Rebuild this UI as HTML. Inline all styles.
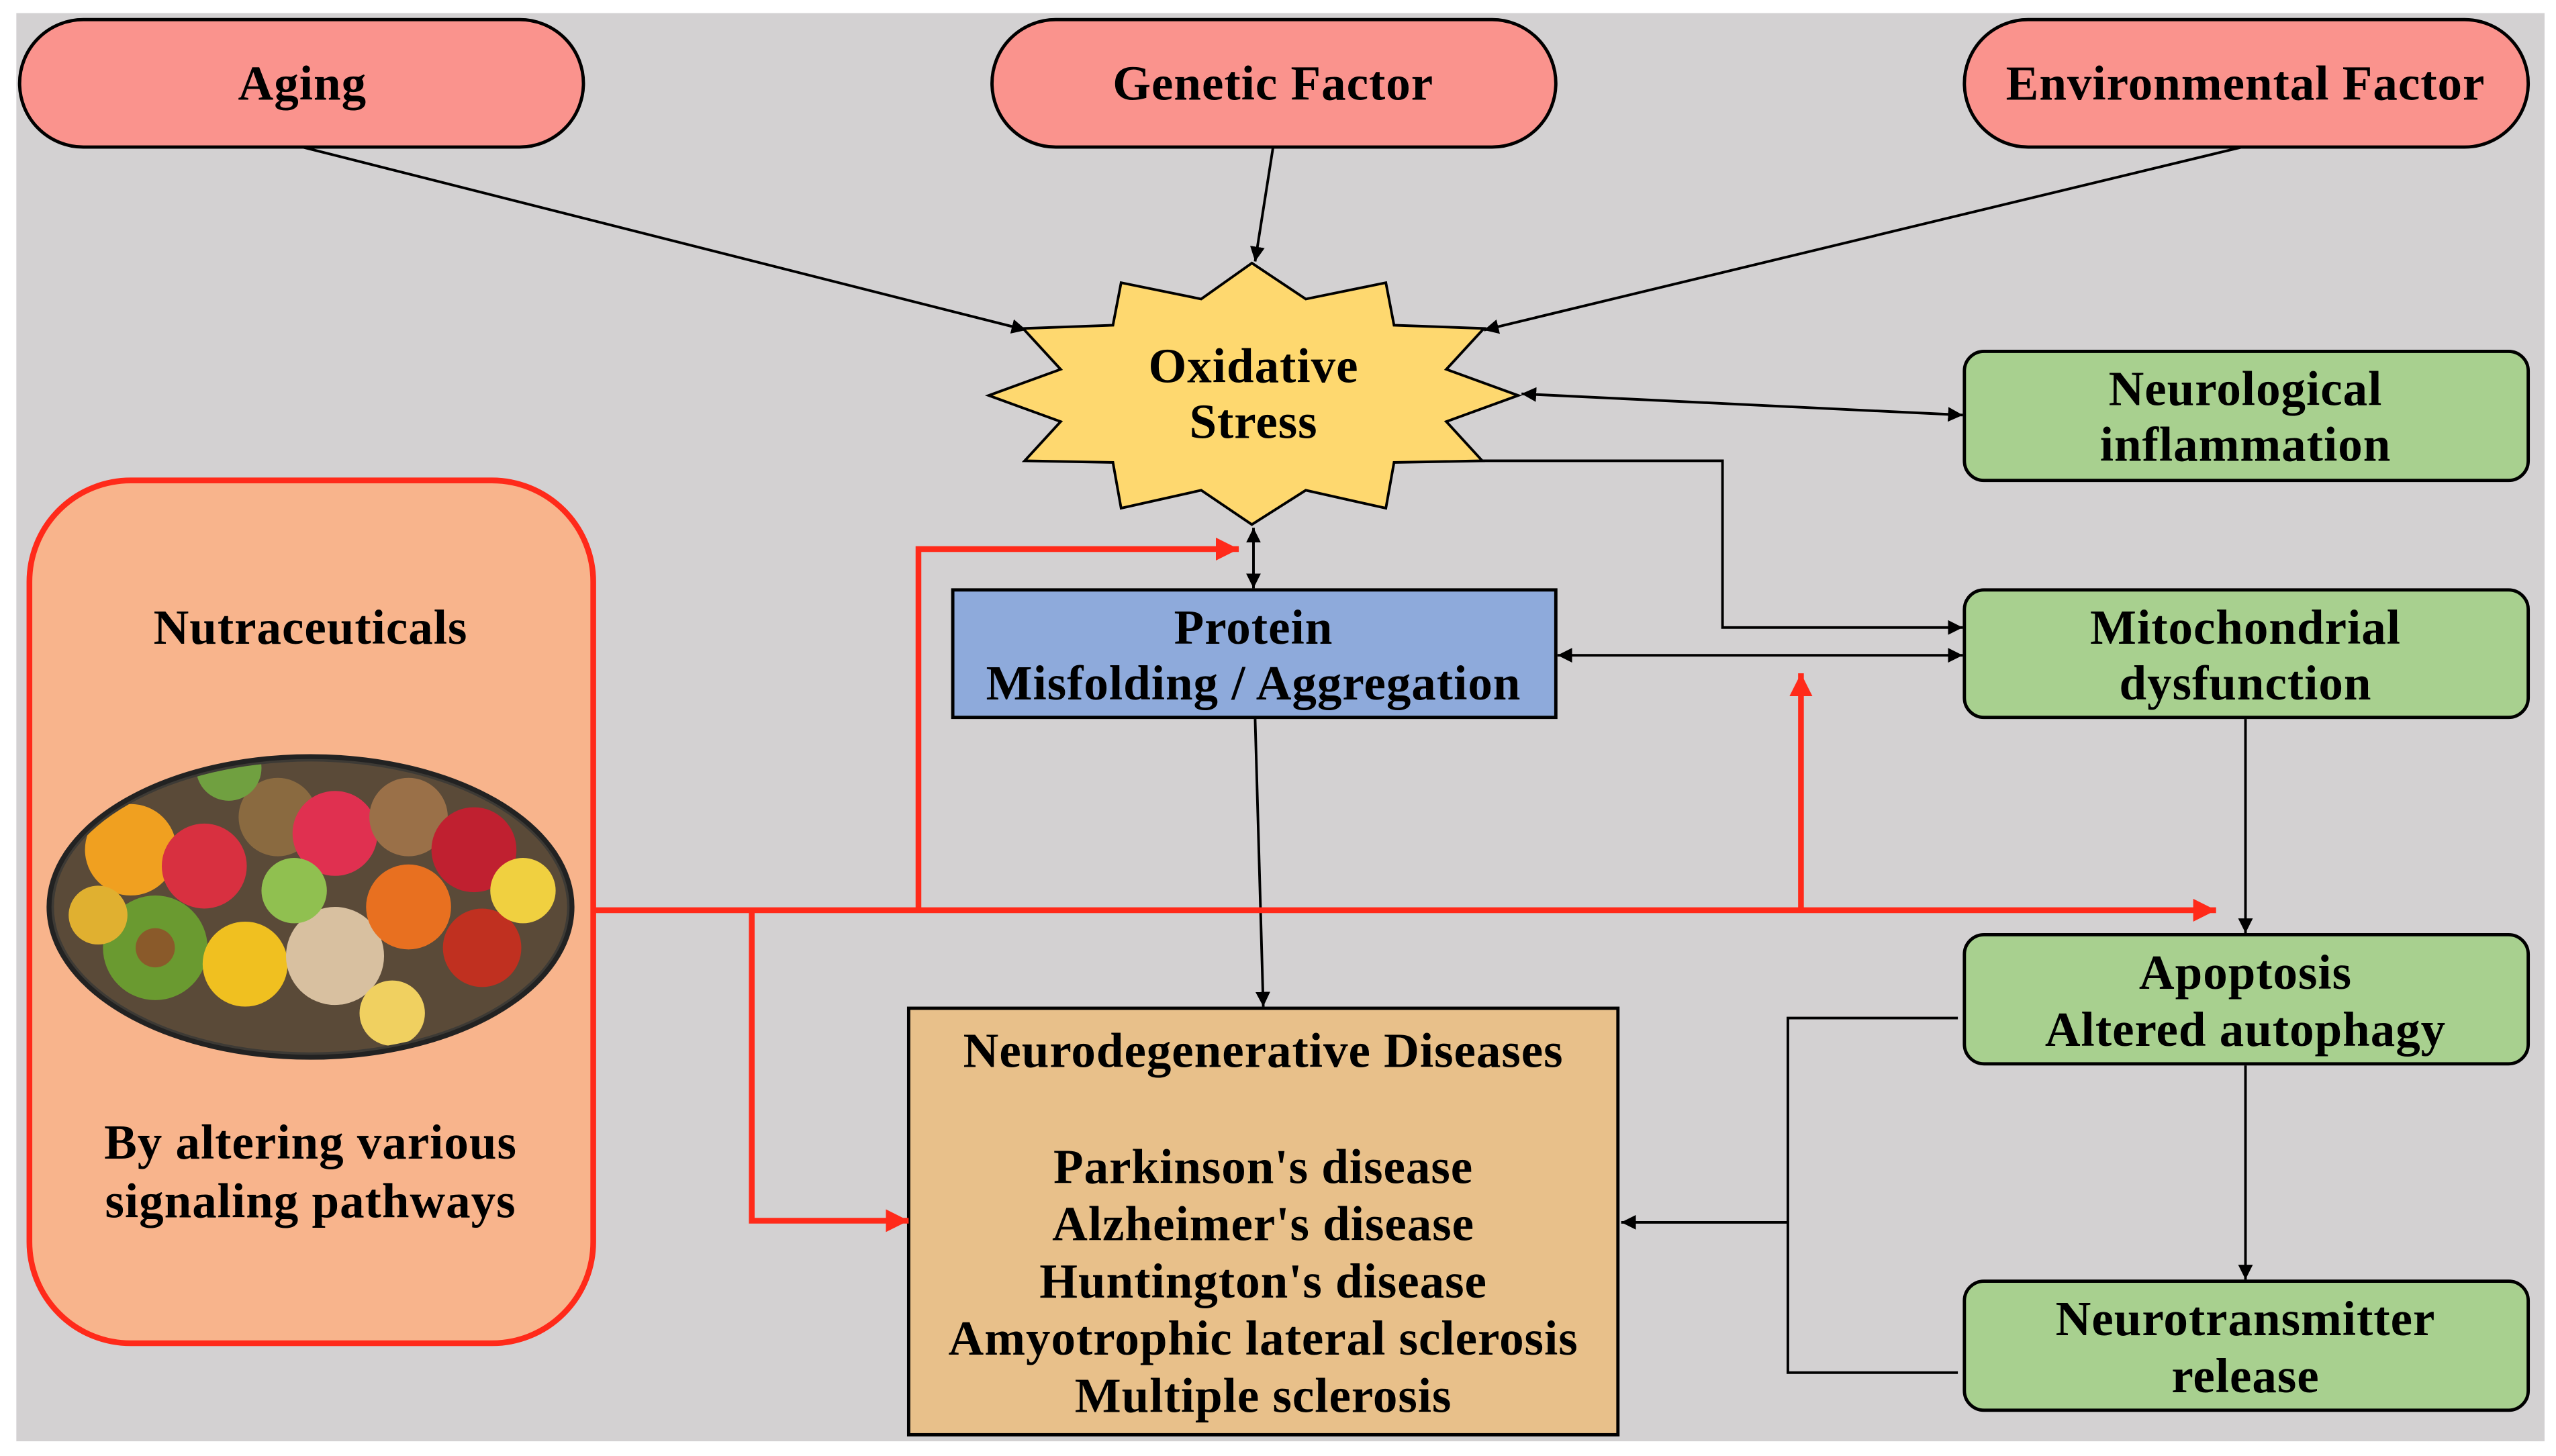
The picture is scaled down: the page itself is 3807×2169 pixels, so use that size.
<!DOCTYPE html>
<html><head><meta charset="utf-8"><style>
html,body{margin:0;padding:0;background:#fff;}
svg{display:block;}
text{font-family:"Liberation Serif",serif;font-weight:bold;font-size:30px;letter-spacing:0.4px;fill:#000;text-anchor:middle;}
</style></head><body>
<svg width="3807" height="2169" viewBox="0 0 1564 891" preserveAspectRatio="none" xmlns="http://www.w3.org/2000/svg">
<defs>
<marker id="ab" viewBox="0 0 10 10" refX="10" refY="5" markerWidth="9" markerHeight="9" markerUnits="userSpaceOnUse" orient="auto-start-reverse"><path d="M0,0 L10,5 L0,10 z" fill="#000"/></marker>
<marker id="ar" viewBox="0 0 10 10" refX="10" refY="5" markerWidth="14" markerHeight="14" markerUnits="userSpaceOnUse" orient="auto"><path d="M0,0 L10,5 L0,10 z" fill="#ff2a1a"/></marker>
<clipPath id="fc"><ellipse cx="190" cy="555" rx="157" ry="89"/></clipPath>
</defs>
<rect x="10" y="8" width="1547" height="874" fill="#d3d1d2"/>

<rect x="12" y="12" width="345" height="78" rx="39" fill="#fa938d" stroke="#000" stroke-width="2"/>
<rect x="607" y="12" width="345" height="78" rx="39" fill="#fa938d" stroke="#000" stroke-width="2"/>
<rect x="1202" y="12" width="345" height="78" rx="39" fill="#fa938d" stroke="#000" stroke-width="2"/>
<text x="185" y="61">Aging</text>
<text x="779" y="61">Genetic Factor</text>
<text x="1374" y="61">Environmental Factor</text>

<g stroke="#000" stroke-width="1.6" fill="none">
<line x1="185" y1="90" x2="628" y2="202" marker-end="url(#ab)"/>
<line x1="779" y1="90" x2="768" y2="160" marker-end="url(#ab)"/>
<line x1="1372" y1="90" x2="908" y2="202" marker-end="url(#ab)"/>
<line x1="931" y1="241" x2="1201" y2="254" marker-start="url(#ab)" marker-end="url(#ab)"/>
<line x1="767" y1="323" x2="767" y2="360" marker-start="url(#ab)" marker-end="url(#ab)"/>
<polyline points="905,282 1054,282 1054,384 1201,384" marker-end="url(#ab)"/>
<line x1="953" y1="401" x2="1201" y2="401" marker-start="url(#ab)" marker-end="url(#ab)"/>
<line x1="1374" y1="440" x2="1374" y2="571" marker-end="url(#ab)"/>
<line x1="768" y1="440" x2="773" y2="616" marker-end="url(#ab)"/>
<line x1="1374" y1="652" x2="1374" y2="783" marker-end="url(#ab)"/>
<polyline points="1198,623 1094,623 1094,840 1198,840"/>
<line x1="1094" y1="748" x2="992" y2="748" marker-end="url(#ab)"/>
</g>

<polygon points="766,161 799,183 848,173 853,199 908,201 885,226 929,242 885,258 907,282 853,283 848,311 799,300 766,321 735,300 686,311 681,283 627,282 649,258 605,242 649,226 626,201 681,199 686,173 735,183" fill="#fed86f" stroke="#000" stroke-width="1.6"/>
<text x="767" y="234">Oxidative</text>
<text x="767" y="268">Stress</text>

<g fill="#a8d08f" stroke="#000" stroke-width="2">
<rect x="1202" y="215" width="345" height="79" rx="12"/>
<rect x="1202" y="361" width="345" height="78" rx="12"/>
<rect x="1202" y="572" width="345" height="79" rx="12"/>
<rect x="1202" y="784" width="345" height="79" rx="12"/>
</g>
<text x="1374" y="248">Neurological</text>
<text x="1374" y="282">inflammation</text>
<text x="1374" y="394">Mitochondrial</text>
<text x="1374" y="428">dysfunction</text>
<text x="1374" y="605">Apoptosis</text>
<text x="1374" y="640">Altered autophagy</text>
<text x="1374" y="817">Neurotransmitter</text>
<text x="1374" y="852">release</text>

<rect x="583" y="361" width="369" height="78" fill="#8eaadb" stroke="#000" stroke-width="2"/>
<text x="767" y="394">Protein</text>
<text x="767" y="428">Misfolding / Aggregation</text>

<rect x="556" y="617" width="434" height="261" fill="#e8c08a" stroke="#000" stroke-width="2"/>
<text x="773" y="653">Neurodegenerative Diseases</text>
<text x="773" y="724">Parkinson's disease</text>
<text x="773" y="759">Alzheimer's disease</text>
<text x="773" y="794">Huntington's disease</text>
<text x="773" y="829">Amyotrophic lateral sclerosis</text>
<text x="773" y="864">Multiple sclerosis</text>

<rect x="18" y="294" width="345" height="528" rx="62" fill="#f8b48c" stroke="#ff2a1a" stroke-width="3.5"/>
<text x="190" y="394">Nutraceuticals</text>
<text x="190" y="709">By altering various</text>
<text x="190" y="745">signaling pathways</text>
<ellipse cx="190" cy="555" rx="160" ry="92" fill="#3d3a35" stroke="#222" stroke-width="3"/>
<g clip-path="url(#fc)">
<rect x="30" y="463" width="320" height="184" fill="#5a4a38"/>
<circle cx="80" cy="520" r="28" fill="#f0a020"/>
<circle cx="125" cy="530" r="26" fill="#d83040"/>
<circle cx="170" cy="500" r="24" fill="#8a6a40"/>
<circle cx="205" cy="510" r="26" fill="#e03050"/>
<circle cx="250" cy="500" r="24" fill="#9a7048"/>
<circle cx="290" cy="520" r="26" fill="#c02030"/>
<circle cx="95" cy="580" r="32" fill="#6a9a30"/>
<circle cx="95" cy="580" r="12" fill="#8a5a2a"/>
<circle cx="150" cy="590" r="26" fill="#f0c020"/>
<circle cx="205" cy="585" r="30" fill="#d8c0a0"/>
<circle cx="250" cy="555" r="26" fill="#e87020"/>
<circle cx="295" cy="580" r="24" fill="#c03020"/>
<circle cx="180" cy="545" r="20" fill="#90c050"/>
<circle cx="320" cy="545" r="20" fill="#f0d040"/>
<circle cx="60" cy="560" r="18" fill="#e0b030"/>
<circle cx="240" cy="620" r="20" fill="#f0d060"/>
<circle cx="140" cy="470" r="20" fill="#70a040"/>
</g>

<g stroke="#ff2a1a" stroke-width="3.5" fill="none">
<line x1="363" y1="557" x2="1356" y2="557" marker-end="url(#ar)"/>
<polyline points="562,557 562,336 758,336" marker-end="url(#ar)"/>
<line x1="1102" y1="557" x2="1102" y2="412" marker-end="url(#ar)"/>
<polyline points="460,557 460,747 556,747" marker-end="url(#ar)"/>
</g>
</svg>
</body></html>
